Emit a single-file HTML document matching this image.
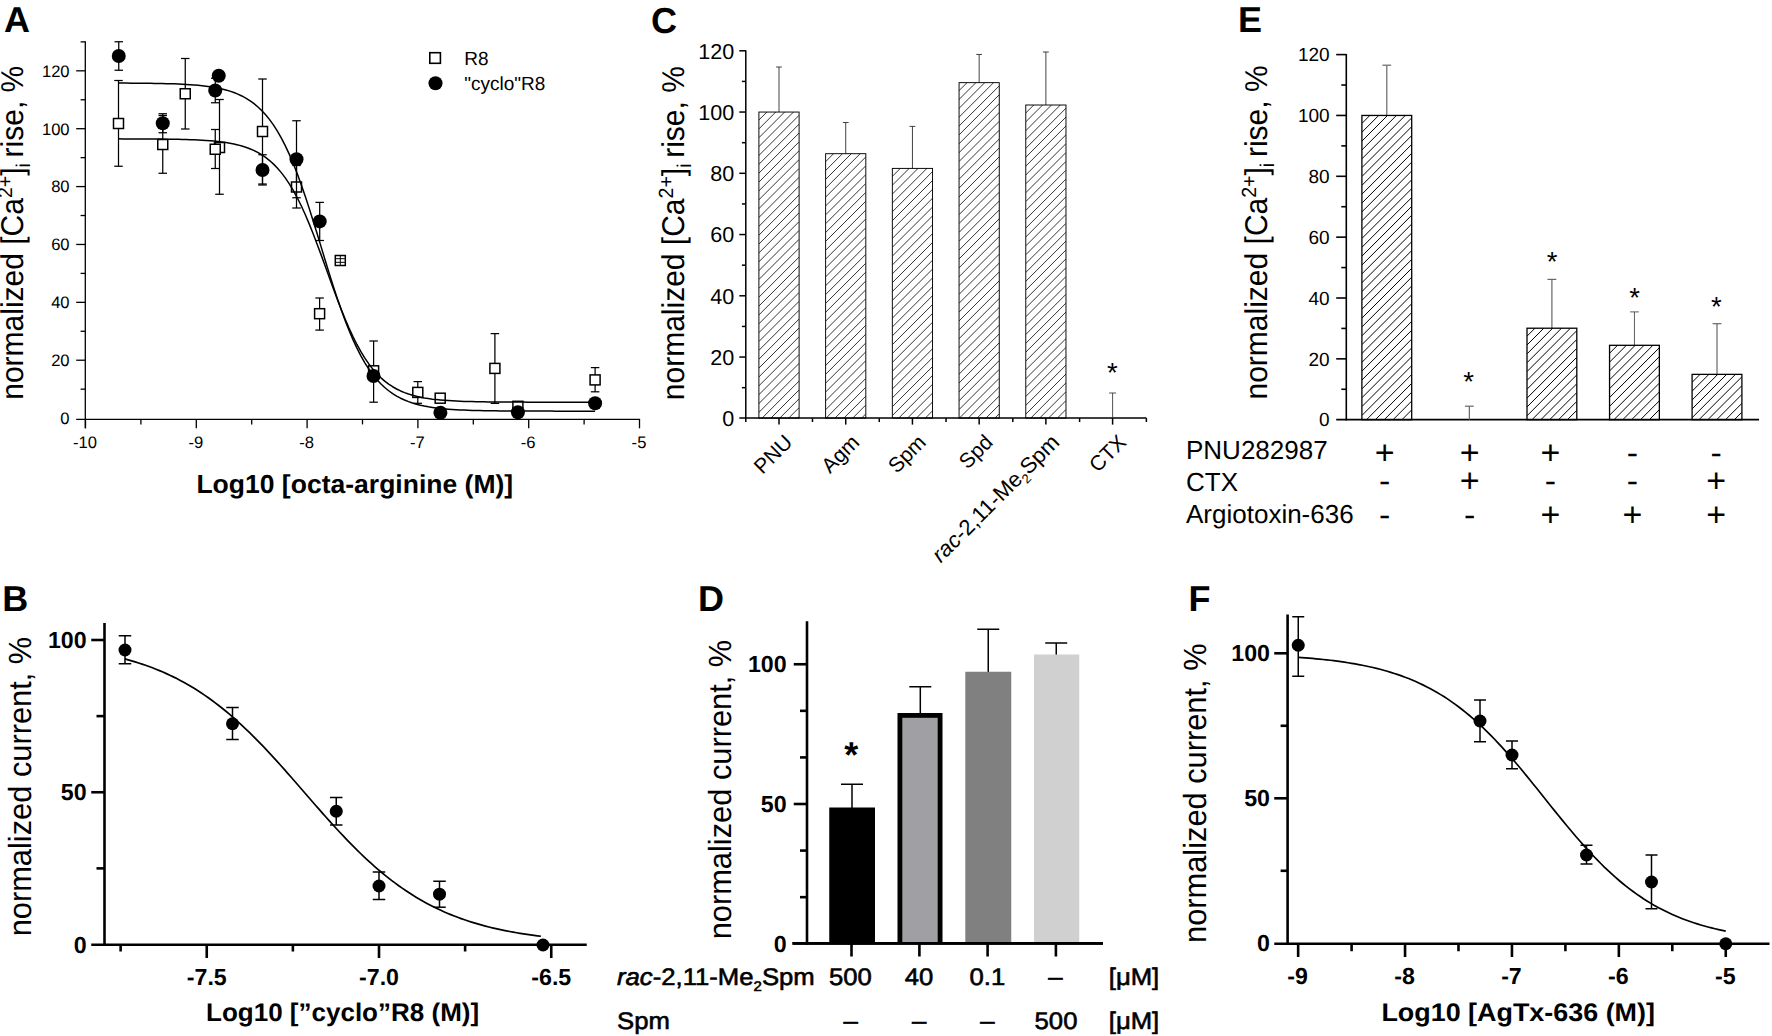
<!DOCTYPE html>
<html lang="en"><head><meta charset="utf-8"><title>Figure</title>
<style>html,body{margin:0;padding:0;background:#fff;}body{width:1772px;height:1036px;overflow:hidden;}svg{display:block;}</style>
</head><body>
<svg width="1772" height="1036" viewBox="0 0 1772 1036" font-family='"Liberation Sans", Arial, sans-serif' text-rendering="geometricPrecision">
<text x="4.00" y="31.60" font-size="36" font-weight="bold" fill="#000">A</text>
<text x="651.00" y="32.60" font-size="36" font-weight="bold" fill="#000">C</text>
<text x="1238.00" y="32.00" font-size="36" font-weight="bold" fill="#000">E</text>
<text x="2.20" y="610.50" font-size="36" font-weight="bold" fill="#000">B</text>
<text x="698.00" y="610.50" font-size="36" font-weight="bold" fill="#000">D</text>
<text x="1188.50" y="610.50" font-size="36" font-weight="bold" fill="#000">F</text>
<line x1="85.30" y1="41.20" x2="85.30" y2="428.30" stroke="#000" stroke-width="1.3"/>
<line x1="76.20" y1="419.40" x2="640.10" y2="419.40" stroke="#000" stroke-width="1.3"/>
<line x1="76.20" y1="360.22" x2="85.30" y2="360.22" stroke="#000" stroke-width="1.3"/>
<line x1="76.20" y1="302.34" x2="85.30" y2="302.34" stroke="#000" stroke-width="1.3"/>
<line x1="76.20" y1="244.46" x2="85.30" y2="244.46" stroke="#000" stroke-width="1.3"/>
<line x1="76.20" y1="186.58" x2="85.30" y2="186.58" stroke="#000" stroke-width="1.3"/>
<line x1="76.20" y1="128.70" x2="85.30" y2="128.70" stroke="#000" stroke-width="1.3"/>
<line x1="76.20" y1="70.82" x2="85.30" y2="70.82" stroke="#000" stroke-width="1.3"/>
<line x1="80.60" y1="389.16" x2="85.30" y2="389.16" stroke="#000" stroke-width="1.3"/>
<line x1="80.60" y1="331.28" x2="85.30" y2="331.28" stroke="#000" stroke-width="1.3"/>
<line x1="80.60" y1="273.40" x2="85.30" y2="273.40" stroke="#000" stroke-width="1.3"/>
<line x1="80.60" y1="215.52" x2="85.30" y2="215.52" stroke="#000" stroke-width="1.3"/>
<line x1="80.60" y1="157.64" x2="85.30" y2="157.64" stroke="#000" stroke-width="1.3"/>
<line x1="80.60" y1="99.76" x2="85.30" y2="99.76" stroke="#000" stroke-width="1.3"/>
<line x1="80.60" y1="41.88" x2="85.30" y2="41.88" stroke="#000" stroke-width="1.3"/>
<line x1="85.50" y1="419.40" x2="85.50" y2="428.30" stroke="#000" stroke-width="1.3"/>
<line x1="196.30" y1="419.40" x2="196.30" y2="428.30" stroke="#000" stroke-width="1.3"/>
<line x1="307.10" y1="419.40" x2="307.10" y2="428.30" stroke="#000" stroke-width="1.3"/>
<line x1="417.90" y1="419.40" x2="417.90" y2="428.30" stroke="#000" stroke-width="1.3"/>
<line x1="528.70" y1="419.40" x2="528.70" y2="428.30" stroke="#000" stroke-width="1.3"/>
<line x1="639.50" y1="419.40" x2="639.50" y2="428.30" stroke="#000" stroke-width="1.3"/>
<line x1="140.90" y1="419.40" x2="140.90" y2="424.40" stroke="#000" stroke-width="1.3"/>
<line x1="251.70" y1="419.40" x2="251.70" y2="424.40" stroke="#000" stroke-width="1.3"/>
<line x1="362.50" y1="419.40" x2="362.50" y2="424.40" stroke="#000" stroke-width="1.3"/>
<line x1="473.30" y1="419.40" x2="473.30" y2="424.40" stroke="#000" stroke-width="1.3"/>
<line x1="584.10" y1="419.40" x2="584.10" y2="424.40" stroke="#000" stroke-width="1.3"/>
<text x="69.60" y="423.90" font-size="16.6" text-anchor="end" fill="#000">0</text>
<text x="69.60" y="366.02" font-size="16.6" text-anchor="end" fill="#000">20</text>
<text x="69.60" y="308.14" font-size="16.6" text-anchor="end" fill="#000">40</text>
<text x="69.60" y="250.26" font-size="16.6" text-anchor="end" fill="#000">60</text>
<text x="69.60" y="192.38" font-size="16.6" text-anchor="end" fill="#000">80</text>
<text x="69.60" y="134.50" font-size="16.6" text-anchor="end" fill="#000">100</text>
<text x="69.60" y="76.62" font-size="16.6" text-anchor="end" fill="#000">120</text>
<text x="85.00" y="447.60" font-size="16.6" text-anchor="middle" fill="#000">-10</text>
<text x="195.80" y="447.60" font-size="16.6" text-anchor="middle" fill="#000">-9</text>
<text x="306.60" y="447.60" font-size="16.6" text-anchor="middle" fill="#000">-8</text>
<text x="417.40" y="447.60" font-size="16.6" text-anchor="middle" fill="#000">-7</text>
<text x="528.20" y="447.60" font-size="16.6" text-anchor="middle" fill="#000">-6</text>
<text x="639.00" y="447.60" font-size="16.6" text-anchor="middle" fill="#000">-5</text>
<text x="0" y="0" transform="translate(196.40 492.80) scale(1.02 1)" font-size="26" font-weight="bold" fill="#000">Log10 [octa-arginine (M)]</text>
<text x="0" y="0" transform="translate(23.30 399.80) rotate(-90) scale(1 1.05)" font-size="30" fill="#000">normalized [Ca<tspan font-size="19.5" dy="-10.5">2+</tspan><tspan dy="10.5">]</tspan><tspan font-size="19" dy="6.5">i</tspan><tspan dy="-6.5" dx="-2.5"> rise,  %</tspan></text>
<rect x="429.80" y="52.70" width="10.6" height="10.6" fill="#fff" stroke="#000" stroke-width="1.6"/>
<circle cx="435.50" cy="83.20" r="7" fill="#000"/>
<text x="464.20" y="64.90" font-size="19" fill="#000">R8</text>
<text x="464.20" y="89.50" font-size="19" fill="#000">&quot;cyclo&quot;R8</text>
<line x1="118.50" y1="80.50" x2="118.50" y2="166.25" stroke="#000" stroke-width="1.25"/>
<line x1="114.25" y1="80.50" x2="122.75" y2="80.50" stroke="#000" stroke-width="1.25"/>
<line x1="114.25" y1="166.25" x2="122.75" y2="166.25" stroke="#000" stroke-width="1.25"/>
<rect x="113.50" y="118.50" width="10" height="10" fill="#fff" stroke="#000" stroke-width="1.5"/>
<line x1="162.75" y1="115.50" x2="162.75" y2="173.25" stroke="#000" stroke-width="1.25"/>
<line x1="158.50" y1="115.50" x2="167.00" y2="115.50" stroke="#000" stroke-width="1.25"/>
<line x1="158.50" y1="173.25" x2="167.00" y2="173.25" stroke="#000" stroke-width="1.25"/>
<rect x="157.75" y="139.50" width="10" height="10" fill="#fff" stroke="#000" stroke-width="1.5"/>
<line x1="185.25" y1="58.50" x2="185.25" y2="129.00" stroke="#000" stroke-width="1.25"/>
<line x1="181.00" y1="58.50" x2="189.50" y2="58.50" stroke="#000" stroke-width="1.25"/>
<line x1="181.00" y1="129.00" x2="189.50" y2="129.00" stroke="#000" stroke-width="1.25"/>
<rect x="180.25" y="88.75" width="10" height="10" fill="#fff" stroke="#000" stroke-width="1.5"/>
<line x1="219.50" y1="99.50" x2="219.50" y2="194.25" stroke="#000" stroke-width="1.25"/>
<line x1="215.25" y1="99.50" x2="223.75" y2="99.50" stroke="#000" stroke-width="1.25"/>
<line x1="215.25" y1="194.25" x2="223.75" y2="194.25" stroke="#000" stroke-width="1.25"/>
<rect x="214.50" y="142.50" width="10" height="10" fill="#fff" stroke="#000" stroke-width="1.5"/>
<line x1="215.25" y1="129.50" x2="215.25" y2="168.50" stroke="#000" stroke-width="1.25"/>
<line x1="211.00" y1="129.50" x2="219.50" y2="129.50" stroke="#000" stroke-width="1.25"/>
<line x1="211.00" y1="168.50" x2="219.50" y2="168.50" stroke="#000" stroke-width="1.25"/>
<rect x="210.25" y="144.25" width="10" height="10" fill="#fff" stroke="#000" stroke-width="1.5"/>
<line x1="262.50" y1="79.00" x2="262.50" y2="184.00" stroke="#000" stroke-width="1.25"/>
<line x1="258.25" y1="79.00" x2="266.75" y2="79.00" stroke="#000" stroke-width="1.25"/>
<line x1="258.25" y1="184.00" x2="266.75" y2="184.00" stroke="#000" stroke-width="1.25"/>
<rect x="257.50" y="126.50" width="10" height="10" fill="#fff" stroke="#000" stroke-width="1.5"/>
<line x1="296.50" y1="165.50" x2="296.50" y2="208.00" stroke="#000" stroke-width="1.25"/>
<line x1="292.25" y1="165.50" x2="300.75" y2="165.50" stroke="#000" stroke-width="1.25"/>
<line x1="292.25" y1="208.00" x2="300.75" y2="208.00" stroke="#000" stroke-width="1.25"/>
<rect x="291.50" y="182.00" width="10" height="10" fill="#fff" stroke="#000" stroke-width="1.5"/>
<line x1="319.60" y1="298.00" x2="319.60" y2="330.10" stroke="#000" stroke-width="1.25"/>
<line x1="315.35" y1="298.00" x2="323.85" y2="298.00" stroke="#000" stroke-width="1.25"/>
<line x1="315.35" y1="330.10" x2="323.85" y2="330.10" stroke="#000" stroke-width="1.25"/>
<rect x="314.60" y="308.70" width="10" height="10" fill="#fff" stroke="#000" stroke-width="1.5"/>
<line x1="340.30" y1="258.30" x2="340.30" y2="262.70" stroke="#000" stroke-width="1.25"/>
<line x1="336.05" y1="258.30" x2="344.55" y2="258.30" stroke="#000" stroke-width="1.25"/>
<line x1="336.05" y1="262.70" x2="344.55" y2="262.70" stroke="#000" stroke-width="1.25"/>
<rect x="335.30" y="255.50" width="10" height="10" fill="#fff" stroke="#000" stroke-width="1.5"/>
<line x1="335.70" y1="258.70" x2="344.90" y2="258.70" stroke="#000" stroke-width="1.0"/>
<line x1="335.70" y1="262.30" x2="344.90" y2="262.30" stroke="#000" stroke-width="1.0"/>
<line x1="340.30" y1="256.00" x2="340.30" y2="265.00" stroke="#000" stroke-width="1.0"/>
<line x1="373.60" y1="341.00" x2="373.60" y2="402.20" stroke="#000" stroke-width="1.25"/>
<line x1="369.35" y1="341.00" x2="377.85" y2="341.00" stroke="#000" stroke-width="1.25"/>
<line x1="369.35" y1="402.20" x2="377.85" y2="402.20" stroke="#000" stroke-width="1.25"/>
<rect x="368.60" y="365.80" width="10" height="10" fill="#fff" stroke="#000" stroke-width="1.5"/>
<line x1="417.80" y1="381.60" x2="417.80" y2="403.30" stroke="#000" stroke-width="1.25"/>
<line x1="413.55" y1="381.60" x2="422.05" y2="381.60" stroke="#000" stroke-width="1.25"/>
<line x1="413.55" y1="403.30" x2="422.05" y2="403.30" stroke="#000" stroke-width="1.25"/>
<rect x="412.80" y="387.40" width="10" height="10" fill="#fff" stroke="#000" stroke-width="1.5"/>
<rect x="435.20" y="393.20" width="10" height="10" fill="#fff" stroke="#000" stroke-width="1.5"/>
<line x1="494.90" y1="333.60" x2="494.90" y2="403.40" stroke="#000" stroke-width="1.25"/>
<line x1="490.65" y1="333.60" x2="499.15" y2="333.60" stroke="#000" stroke-width="1.25"/>
<line x1="490.65" y1="403.40" x2="499.15" y2="403.40" stroke="#000" stroke-width="1.25"/>
<rect x="489.90" y="363.40" width="10" height="10" fill="#fff" stroke="#000" stroke-width="1.5"/>
<rect x="512.90" y="401.30" width="10" height="10" fill="#fff" stroke="#000" stroke-width="1.5"/>
<line x1="595.10" y1="367.60" x2="595.10" y2="391.80" stroke="#000" stroke-width="1.25"/>
<line x1="590.85" y1="367.60" x2="599.35" y2="367.60" stroke="#000" stroke-width="1.25"/>
<line x1="590.85" y1="391.80" x2="599.35" y2="391.80" stroke="#000" stroke-width="1.25"/>
<rect x="590.10" y="374.90" width="10" height="10" fill="#fff" stroke="#000" stroke-width="1.5"/>
<line x1="118.75" y1="41.75" x2="118.75" y2="70.25" stroke="#000" stroke-width="1.25"/>
<line x1="114.50" y1="41.75" x2="123.00" y2="41.75" stroke="#000" stroke-width="1.25"/>
<line x1="114.50" y1="70.25" x2="123.00" y2="70.25" stroke="#000" stroke-width="1.25"/>
<line x1="162.75" y1="113.75" x2="162.75" y2="132.75" stroke="#000" stroke-width="1.25"/>
<line x1="158.50" y1="113.75" x2="167.00" y2="113.75" stroke="#000" stroke-width="1.25"/>
<line x1="158.50" y1="132.75" x2="167.00" y2="132.75" stroke="#000" stroke-width="1.25"/>
<line x1="215.25" y1="78.25" x2="215.25" y2="102.75" stroke="#000" stroke-width="1.25"/>
<line x1="211.00" y1="78.25" x2="219.50" y2="78.25" stroke="#000" stroke-width="1.25"/>
<line x1="211.00" y1="102.75" x2="219.50" y2="102.75" stroke="#000" stroke-width="1.25"/>
<line x1="262.50" y1="154.75" x2="262.50" y2="185.00" stroke="#000" stroke-width="1.25"/>
<line x1="258.25" y1="154.75" x2="266.75" y2="154.75" stroke="#000" stroke-width="1.25"/>
<line x1="258.25" y1="185.00" x2="266.75" y2="185.00" stroke="#000" stroke-width="1.25"/>
<line x1="296.50" y1="120.75" x2="296.50" y2="197.75" stroke="#000" stroke-width="1.25"/>
<line x1="292.25" y1="120.75" x2="300.75" y2="120.75" stroke="#000" stroke-width="1.25"/>
<line x1="292.25" y1="197.75" x2="300.75" y2="197.75" stroke="#000" stroke-width="1.25"/>
<line x1="319.70" y1="202.40" x2="319.70" y2="240.50" stroke="#000" stroke-width="1.25"/>
<line x1="315.45" y1="202.40" x2="323.95" y2="202.40" stroke="#000" stroke-width="1.25"/>
<line x1="315.45" y1="240.50" x2="323.95" y2="240.50" stroke="#000" stroke-width="1.25"/>
<circle cx="118.75" cy="56.00" r="7" fill="#000"/>
<circle cx="162.75" cy="123.25" r="7" fill="#000"/>
<circle cx="218.75" cy="75.75" r="7" fill="#000"/>
<circle cx="215.25" cy="90.50" r="7" fill="#000"/>
<circle cx="262.50" cy="170.00" r="7" fill="#000"/>
<circle cx="296.50" cy="159.25" r="7" fill="#000"/>
<circle cx="319.70" cy="221.40" r="7" fill="#000"/>
<circle cx="373.50" cy="376.00" r="7" fill="#000"/>
<circle cx="440.40" cy="412.70" r="7" fill="#000"/>
<circle cx="517.90" cy="412.30" r="7" fill="#000"/>
<circle cx="595.10" cy="403.30" r="7" fill="#000"/>
<polyline points="118.75,83.07 122.72,83.09 126.69,83.11 130.66,83.13 134.63,83.16 138.60,83.19 142.57,83.22 146.54,83.27 150.51,83.32 154.48,83.38 158.45,83.45 162.42,83.53 166.39,83.63 170.35,83.74 174.32,83.87 178.29,84.02 182.26,84.20 186.23,84.42 190.20,84.66 194.17,84.96 198.14,85.30 202.11,85.69 206.08,86.16 210.05,86.70 214.02,87.34 217.99,88.08 221.96,88.95 225.93,89.96 229.90,91.14 233.87,92.51 237.84,94.11 241.81,95.96 245.78,98.10 249.75,100.57 253.72,103.43 257.69,106.71 261.66,110.47 265.62,114.77 269.59,119.65 273.56,125.18 277.53,131.40 281.50,138.36 285.47,146.10 289.44,154.64 293.41,163.97 297.38,174.09 301.35,184.96 305.32,196.49 309.29,208.61 313.26,221.19 317.23,234.09 321.20,247.15 325.17,260.22 329.14,273.11 333.11,285.69 337.08,297.80 341.05,309.33 345.02,320.18 348.99,330.29 352.96,339.62 356.93,348.14 360.89,355.87 364.86,362.82 368.83,369.03 372.80,374.55 376.77,379.43 380.74,383.71 384.71,387.47 388.68,390.74 392.65,393.59 396.62,396.06 400.59,398.20 404.56,400.05 408.53,401.64 412.50,403.01 416.47,404.18 420.44,405.19 424.41,406.06 428.38,406.80 432.35,407.43 436.32,407.98 440.29,408.44 444.26,408.84 448.23,409.18 452.19,409.47 456.16,409.72 460.13,409.93 464.10,410.11 468.07,410.26 472.04,410.39 476.01,410.50 479.98,410.60 483.95,410.68 487.92,410.75 491.89,410.81 495.86,410.86 499.83,410.90 503.80,410.94 507.77,410.97 511.74,411.00 515.71,411.02 519.68,411.04 523.65,411.06 527.62,411.07 531.59,411.08 535.56,411.09 539.53,411.10 543.50,411.11 547.47,411.12 551.43,411.12 555.40,411.13 559.37,411.13 563.34,411.13 567.31,411.14 571.28,411.14 575.25,411.14 579.22,411.14 583.19,411.15 587.16,411.15 591.13,411.15 595.10,411.15" fill="none" stroke="#000" stroke-width="1.5" stroke-linejoin="round"/>
<polyline points="118.75,138.87 122.72,138.88 126.69,138.89 130.66,138.90 134.63,138.91 138.60,138.92 142.57,138.94 146.54,138.96 150.51,138.99 154.48,139.01 158.45,139.05 162.42,139.09 166.39,139.13 170.35,139.19 174.32,139.26 178.29,139.33 182.26,139.42 186.23,139.53 190.20,139.66 194.17,139.81 198.14,139.99 202.11,140.20 206.08,140.45 210.05,140.74 214.02,141.09 217.99,141.49 221.96,141.97 225.93,142.54 229.90,143.20 233.87,143.98 237.84,144.90 241.81,145.97 245.78,147.23 249.75,148.70 253.72,150.42 257.69,152.42 261.66,154.75 265.62,157.44 269.59,160.55 273.56,164.13 277.53,168.22 281.50,172.88 285.47,178.15 289.44,184.08 293.41,190.70 297.38,198.02 301.35,206.04 305.32,214.75 309.29,224.10 313.26,234.01 317.23,244.40 321.20,255.13 325.17,266.07 329.14,277.08 333.11,287.99 337.08,298.67 341.05,308.97 345.02,318.78 348.99,328.01 352.96,336.58 356.93,344.47 360.89,351.66 364.86,358.14 368.83,363.94 372.80,369.09 376.77,373.63 380.74,377.62 384.71,381.10 388.68,384.12 392.65,386.74 396.62,389.00 400.59,390.95 404.56,392.61 408.53,394.04 412.50,395.26 416.47,396.31 420.44,397.19 424.41,397.95 428.38,398.59 432.35,399.14 436.32,399.60 440.29,400.00 444.26,400.33 448.23,400.62 452.19,400.86 456.16,401.06 460.13,401.23 464.10,401.38 468.07,401.50 472.04,401.61 476.01,401.69 479.98,401.77 483.95,401.83 487.92,401.89 491.89,401.93 495.86,401.97 499.83,402.00 503.80,402.03 507.77,402.05 511.74,402.07 515.71,402.09 519.68,402.11 523.65,402.12 527.62,402.13 531.59,402.14 535.56,402.14 539.53,402.15 543.50,402.15 547.47,402.16 551.43,402.16 555.40,402.17 559.37,402.17 563.34,402.17 567.31,402.17 571.28,402.17 575.25,402.18 579.22,402.18 583.19,402.18 587.16,402.18 591.13,402.18 595.10,402.18" fill="none" stroke="#000" stroke-width="1.5" stroke-linejoin="round"/>
<line x1="745.80" y1="50.30" x2="745.80" y2="422.00" stroke="#000" stroke-width="1.5"/>
<line x1="739.30" y1="418.10" x2="1146.40" y2="418.10" stroke="#000" stroke-width="1.5"/>
<line x1="739.30" y1="357.05" x2="745.80" y2="357.05" stroke="#000" stroke-width="1.5"/>
<line x1="739.30" y1="295.80" x2="745.80" y2="295.80" stroke="#000" stroke-width="1.5"/>
<line x1="739.30" y1="234.55" x2="745.80" y2="234.55" stroke="#000" stroke-width="1.5"/>
<line x1="739.30" y1="173.30" x2="745.80" y2="173.30" stroke="#000" stroke-width="1.5"/>
<line x1="739.30" y1="112.05" x2="745.80" y2="112.05" stroke="#000" stroke-width="1.5"/>
<line x1="739.30" y1="50.80" x2="745.80" y2="50.80" stroke="#000" stroke-width="1.5"/>
<line x1="741.90" y1="387.68" x2="745.80" y2="387.68" stroke="#000" stroke-width="1.5"/>
<line x1="741.90" y1="326.43" x2="745.80" y2="326.43" stroke="#000" stroke-width="1.5"/>
<line x1="741.90" y1="265.18" x2="745.80" y2="265.18" stroke="#000" stroke-width="1.5"/>
<line x1="741.90" y1="203.93" x2="745.80" y2="203.93" stroke="#000" stroke-width="1.5"/>
<line x1="741.90" y1="142.68" x2="745.80" y2="142.68" stroke="#000" stroke-width="1.5"/>
<line x1="741.90" y1="81.43" x2="745.80" y2="81.43" stroke="#000" stroke-width="1.5"/>
<line x1="779.00" y1="418.10" x2="779.00" y2="424.60" stroke="#000" stroke-width="1.5"/>
<line x1="845.72" y1="418.10" x2="845.72" y2="424.60" stroke="#000" stroke-width="1.5"/>
<line x1="912.44" y1="418.10" x2="912.44" y2="424.60" stroke="#000" stroke-width="1.5"/>
<line x1="979.16" y1="418.10" x2="979.16" y2="424.60" stroke="#000" stroke-width="1.5"/>
<line x1="1045.88" y1="418.10" x2="1045.88" y2="424.60" stroke="#000" stroke-width="1.5"/>
<line x1="1112.60" y1="418.10" x2="1112.60" y2="424.60" stroke="#000" stroke-width="1.5"/>
<line x1="812.48" y1="418.10" x2="812.48" y2="422.00" stroke="#000" stroke-width="1.5"/>
<line x1="879.26" y1="418.10" x2="879.26" y2="422.00" stroke="#000" stroke-width="1.5"/>
<line x1="946.04" y1="418.10" x2="946.04" y2="422.00" stroke="#000" stroke-width="1.5"/>
<line x1="1012.82" y1="418.10" x2="1012.82" y2="422.00" stroke="#000" stroke-width="1.5"/>
<line x1="1079.60" y1="418.10" x2="1079.60" y2="422.00" stroke="#000" stroke-width="1.5"/>
<line x1="1146.38" y1="418.10" x2="1146.38" y2="422.00" stroke="#000" stroke-width="1.5"/>
<text x="734.20" y="426.00" font-size="21.6" text-anchor="end" fill="#000">0</text>
<text x="734.20" y="364.75" font-size="21.6" text-anchor="end" fill="#000">20</text>
<text x="734.20" y="303.50" font-size="21.6" text-anchor="end" fill="#000">40</text>
<text x="734.20" y="242.25" font-size="21.6" text-anchor="end" fill="#000">60</text>
<text x="734.20" y="181.00" font-size="21.6" text-anchor="end" fill="#000">80</text>
<text x="734.20" y="119.75" font-size="21.6" text-anchor="end" fill="#000">100</text>
<text x="734.20" y="58.50" font-size="21.6" text-anchor="end" fill="#000">120</text>
<text x="0" y="0" transform="translate(683.70 400.20) rotate(-90) scale(1 1.05)" font-size="30" fill="#000">normalized [Ca<tspan font-size="19.5" dy="-10.5">2+</tspan><tspan dy="10.5">]</tspan><tspan font-size="19" dy="6.5">i</tspan><tspan dy="-6.5" dx="-2.5"> rise,  %</tspan></text>
<line x1="779.00" y1="67.00" x2="779.00" y2="112.05" stroke="#222" stroke-width="0.85"/>
<line x1="776.10" y1="67.00" x2="781.90" y2="67.00" stroke="#222" stroke-width="0.85"/>
<clipPath id="c1"><rect x="758.90" y="112.05" width="40.20" height="306.05"/></clipPath>
<path d="M758.90 120.02L799.10 79.82M758.90 128.88L799.10 88.68M758.90 137.74L799.10 97.54M758.90 146.60L799.10 106.40M758.90 155.46L799.10 115.26M758.90 164.32L799.10 124.12M758.90 173.18L799.10 132.98M758.90 182.04L799.10 141.84M758.90 190.90L799.10 150.70M758.90 199.76L799.10 159.56M758.90 208.62L799.10 168.42M758.90 217.48L799.10 177.28M758.90 226.34L799.10 186.14M758.90 235.20L799.10 195.00M758.90 244.06L799.10 203.86M758.90 252.92L799.10 212.72M758.90 261.78L799.10 221.58M758.90 270.64L799.10 230.44M758.90 279.50L799.10 239.30M758.90 288.36L799.10 248.16M758.90 297.22L799.10 257.02M758.90 306.08L799.10 265.88M758.90 314.94L799.10 274.74M758.90 323.80L799.10 283.60M758.90 332.66L799.10 292.46M758.90 341.52L799.10 301.32M758.90 350.38L799.10 310.18M758.90 359.24L799.10 319.04M758.90 368.10L799.10 327.90M758.90 376.96L799.10 336.76M758.90 385.82L799.10 345.62M758.90 394.68L799.10 354.48M758.90 403.54L799.10 363.34M758.90 412.40L799.10 372.20M758.90 421.26L799.10 381.06M758.90 430.12L799.10 389.92M758.90 438.98L799.10 398.78M758.90 447.84L799.10 407.64M758.90 456.70L799.10 416.50" stroke="#000" stroke-width="0.8" fill="none" clip-path="url(#c1)"/>
<rect x="758.90" y="112.05" width="40.20" height="306.05" fill="none" stroke="#000" stroke-width="0.95"/>
<line x1="845.72" y1="122.50" x2="845.72" y2="153.70" stroke="#222" stroke-width="0.85"/>
<line x1="842.82" y1="122.50" x2="848.62" y2="122.50" stroke="#222" stroke-width="0.85"/>
<clipPath id="c2"><rect x="825.62" y="153.70" width="40.20" height="264.40"/></clipPath>
<path d="M825.62 161.67L865.82 121.47M825.62 170.53L865.82 130.33M825.62 179.39L865.82 139.19M825.62 188.25L865.82 148.05M825.62 197.11L865.82 156.91M825.62 205.97L865.82 165.77M825.62 214.83L865.82 174.63M825.62 223.69L865.82 183.49M825.62 232.55L865.82 192.35M825.62 241.41L865.82 201.21M825.62 250.27L865.82 210.07M825.62 259.13L865.82 218.93M825.62 267.99L865.82 227.79M825.62 276.85L865.82 236.65M825.62 285.71L865.82 245.51M825.62 294.57L865.82 254.37M825.62 303.43L865.82 263.23M825.62 312.29L865.82 272.09M825.62 321.15L865.82 280.95M825.62 330.01L865.82 289.81M825.62 338.87L865.82 298.67M825.62 347.73L865.82 307.53M825.62 356.59L865.82 316.39M825.62 365.45L865.82 325.25M825.62 374.31L865.82 334.11M825.62 383.17L865.82 342.97M825.62 392.03L865.82 351.83M825.62 400.89L865.82 360.69M825.62 409.75L865.82 369.55M825.62 418.61L865.82 378.41M825.62 427.47L865.82 387.27M825.62 436.33L865.82 396.13M825.62 445.19L865.82 404.99M825.62 454.05L865.82 413.85" stroke="#000" stroke-width="0.8" fill="none" clip-path="url(#c2)"/>
<rect x="825.62" y="153.70" width="40.20" height="264.40" fill="none" stroke="#000" stroke-width="0.95"/>
<line x1="912.44" y1="126.40" x2="912.44" y2="168.40" stroke="#222" stroke-width="0.85"/>
<line x1="909.54" y1="126.40" x2="915.34" y2="126.40" stroke="#222" stroke-width="0.85"/>
<clipPath id="c3"><rect x="892.34" y="168.40" width="40.20" height="249.70"/></clipPath>
<path d="M892.34 176.37L932.54 136.17M892.34 185.23L932.54 145.03M892.34 194.09L932.54 153.89M892.34 202.95L932.54 162.75M892.34 211.81L932.54 171.61M892.34 220.67L932.54 180.47M892.34 229.53L932.54 189.33M892.34 238.39L932.54 198.19M892.34 247.25L932.54 207.05M892.34 256.11L932.54 215.91M892.34 264.97L932.54 224.77M892.34 273.83L932.54 233.63M892.34 282.69L932.54 242.49M892.34 291.55L932.54 251.35M892.34 300.41L932.54 260.21M892.34 309.27L932.54 269.07M892.34 318.13L932.54 277.93M892.34 326.99L932.54 286.79M892.34 335.85L932.54 295.65M892.34 344.71L932.54 304.51M892.34 353.57L932.54 313.37M892.34 362.43L932.54 322.23M892.34 371.29L932.54 331.09M892.34 380.15L932.54 339.95M892.34 389.01L932.54 348.81M892.34 397.87L932.54 357.67M892.34 406.73L932.54 366.53M892.34 415.59L932.54 375.39M892.34 424.45L932.54 384.25M892.34 433.31L932.54 393.11M892.34 442.17L932.54 401.97M892.34 451.03L932.54 410.83" stroke="#000" stroke-width="0.8" fill="none" clip-path="url(#c3)"/>
<rect x="892.34" y="168.40" width="40.20" height="249.70" fill="none" stroke="#000" stroke-width="0.95"/>
<line x1="979.16" y1="54.45" x2="979.16" y2="82.65" stroke="#222" stroke-width="0.85"/>
<line x1="976.26" y1="54.45" x2="982.06" y2="54.45" stroke="#222" stroke-width="0.85"/>
<clipPath id="c4"><rect x="959.06" y="82.65" width="40.20" height="335.45"/></clipPath>
<path d="M959.06 90.62L999.26 50.42M959.06 99.48L999.26 59.28M959.06 108.34L999.26 68.14M959.06 117.20L999.26 77.00M959.06 126.06L999.26 85.86M959.06 134.92L999.26 94.72M959.06 143.78L999.26 103.58M959.06 152.64L999.26 112.44M959.06 161.50L999.26 121.30M959.06 170.36L999.26 130.16M959.06 179.22L999.26 139.02M959.06 188.08L999.26 147.88M959.06 196.94L999.26 156.74M959.06 205.80L999.26 165.60M959.06 214.66L999.26 174.46M959.06 223.52L999.26 183.32M959.06 232.38L999.26 192.18M959.06 241.24L999.26 201.04M959.06 250.10L999.26 209.90M959.06 258.96L999.26 218.76M959.06 267.82L999.26 227.62M959.06 276.68L999.26 236.48M959.06 285.54L999.26 245.34M959.06 294.40L999.26 254.20M959.06 303.26L999.26 263.06M959.06 312.12L999.26 271.92M959.06 320.98L999.26 280.78M959.06 329.84L999.26 289.64M959.06 338.70L999.26 298.50M959.06 347.56L999.26 307.36M959.06 356.42L999.26 316.22M959.06 365.28L999.26 325.08M959.06 374.14L999.26 333.94M959.06 383.00L999.26 342.80M959.06 391.86L999.26 351.66M959.06 400.72L999.26 360.52M959.06 409.58L999.26 369.38M959.06 418.44L999.26 378.24M959.06 427.30L999.26 387.10M959.06 436.16L999.26 395.96M959.06 445.02L999.26 404.82M959.06 453.88L999.26 413.68" stroke="#000" stroke-width="0.8" fill="none" clip-path="url(#c4)"/>
<rect x="959.06" y="82.65" width="40.20" height="335.45" fill="none" stroke="#000" stroke-width="0.95"/>
<line x1="1045.88" y1="52.00" x2="1045.88" y2="105.01" stroke="#222" stroke-width="0.85"/>
<line x1="1042.98" y1="52.00" x2="1048.78" y2="52.00" stroke="#222" stroke-width="0.85"/>
<clipPath id="c5"><rect x="1025.78" y="105.01" width="40.20" height="313.09"/></clipPath>
<path d="M1025.78 112.98L1065.98 72.78M1025.78 121.84L1065.98 81.64M1025.78 130.70L1065.98 90.50M1025.78 139.56L1065.98 99.36M1025.78 148.42L1065.98 108.22M1025.78 157.28L1065.98 117.08M1025.78 166.14L1065.98 125.94M1025.78 175.00L1065.98 134.80M1025.78 183.86L1065.98 143.66M1025.78 192.72L1065.98 152.52M1025.78 201.58L1065.98 161.38M1025.78 210.44L1065.98 170.24M1025.78 219.30L1065.98 179.10M1025.78 228.16L1065.98 187.96M1025.78 237.02L1065.98 196.82M1025.78 245.88L1065.98 205.68M1025.78 254.74L1065.98 214.54M1025.78 263.60L1065.98 223.40M1025.78 272.46L1065.98 232.26M1025.78 281.32L1065.98 241.12M1025.78 290.18L1065.98 249.98M1025.78 299.04L1065.98 258.84M1025.78 307.90L1065.98 267.70M1025.78 316.76L1065.98 276.56M1025.78 325.62L1065.98 285.42M1025.78 334.48L1065.98 294.28M1025.78 343.34L1065.98 303.14M1025.78 352.20L1065.98 312.00M1025.78 361.06L1065.98 320.86M1025.78 369.92L1065.98 329.72M1025.78 378.78L1065.98 338.58M1025.78 387.64L1065.98 347.44M1025.78 396.50L1065.98 356.30M1025.78 405.36L1065.98 365.16M1025.78 414.22L1065.98 374.02M1025.78 423.08L1065.98 382.88M1025.78 431.94L1065.98 391.74M1025.78 440.80L1065.98 400.60M1025.78 449.66L1065.98 409.46" stroke="#000" stroke-width="0.8" fill="none" clip-path="url(#c5)"/>
<rect x="1025.78" y="105.01" width="40.20" height="313.09" fill="none" stroke="#000" stroke-width="0.95"/>
<line x1="1112.60" y1="393.00" x2="1112.60" y2="418.10" stroke="#333" stroke-width="0.85"/>
<line x1="1109.10" y1="393.00" x2="1116.10" y2="393.00" stroke="#333" stroke-width="0.85"/>
<text x="1112.30" y="382.40" font-size="27.5" text-anchor="middle" fill="#000">*</text>
<text x="0" y="0" transform="translate(793.80 443.60) rotate(-45)" font-size="21" text-anchor="end" fill="#000">PNU</text>
<text x="0" y="0" transform="translate(860.52 443.60) rotate(-45)" font-size="21" text-anchor="end" fill="#000">Agm</text>
<text x="0" y="0" transform="translate(927.24 443.60) rotate(-45)" font-size="21" text-anchor="end" fill="#000">Spm</text>
<text x="0" y="0" transform="translate(993.96 443.60) rotate(-45)" font-size="21" text-anchor="end" fill="#000">Spd</text>
<text x="0" y="0" transform="translate(1060.68 443.60) rotate(-45)" font-size="22" text-anchor="end" fill="#000"><tspan font-style="italic">rac</tspan>-2,11-Me<tspan font-size="13" dy="5">2</tspan><tspan dy="-5">Spm</tspan></text>
<text x="0" y="0" transform="translate(1127.40 443.60) rotate(-45)" font-size="21" text-anchor="end" fill="#000">CTX</text>
<line x1="1346.30" y1="53.90" x2="1346.30" y2="420.40" stroke="#000" stroke-width="1.6"/>
<line x1="1336.20" y1="419.70" x2="1759.00" y2="419.70" stroke="#000" stroke-width="1.75"/>
<line x1="1336.20" y1="358.85" x2="1346.30" y2="358.85" stroke="#000" stroke-width="1.6"/>
<line x1="1336.20" y1="298.00" x2="1346.30" y2="298.00" stroke="#000" stroke-width="1.6"/>
<line x1="1336.20" y1="237.15" x2="1346.30" y2="237.15" stroke="#000" stroke-width="1.6"/>
<line x1="1336.20" y1="176.30" x2="1346.30" y2="176.30" stroke="#000" stroke-width="1.6"/>
<line x1="1336.20" y1="115.45" x2="1346.30" y2="115.45" stroke="#000" stroke-width="1.6"/>
<line x1="1336.20" y1="54.60" x2="1346.30" y2="54.60" stroke="#000" stroke-width="1.6"/>
<line x1="1341.30" y1="389.27" x2="1346.30" y2="389.27" stroke="#000" stroke-width="1.6"/>
<line x1="1341.30" y1="328.42" x2="1346.30" y2="328.42" stroke="#000" stroke-width="1.6"/>
<line x1="1341.30" y1="267.57" x2="1346.30" y2="267.57" stroke="#000" stroke-width="1.6"/>
<line x1="1341.30" y1="206.72" x2="1346.30" y2="206.72" stroke="#000" stroke-width="1.6"/>
<line x1="1341.30" y1="145.88" x2="1346.30" y2="145.88" stroke="#000" stroke-width="1.6"/>
<line x1="1341.30" y1="85.02" x2="1346.30" y2="85.02" stroke="#000" stroke-width="1.6"/>
<text x="1329.60" y="426.40" font-size="19" text-anchor="end" fill="#000">0</text>
<text x="1329.60" y="365.55" font-size="19" text-anchor="end" fill="#000">20</text>
<text x="1329.60" y="304.70" font-size="19" text-anchor="end" fill="#000">40</text>
<text x="1329.60" y="243.85" font-size="19" text-anchor="end" fill="#000">60</text>
<text x="1329.60" y="183.00" font-size="19" text-anchor="end" fill="#000">80</text>
<text x="1329.60" y="122.15" font-size="19" text-anchor="end" fill="#000">100</text>
<text x="1329.60" y="61.30" font-size="19" text-anchor="end" fill="#000">120</text>
<text x="0" y="0" transform="translate(1266.80 399.50) rotate(-90) scale(1 1.05)" font-size="30" fill="#000">normalized [Ca<tspan font-size="19.5" dy="-10.5">2+</tspan><tspan dy="10.5">]</tspan><tspan font-size="19" dy="6.5">i</tspan><tspan dy="-6.5" dx="-2.5"> rise,  %</tspan></text>
<line x1="1386.80" y1="65.20" x2="1386.80" y2="115.45" stroke="#666" stroke-width="1.2"/>
<line x1="1382.40" y1="65.20" x2="1391.20" y2="65.20" stroke="#666" stroke-width="1.2"/>
<clipPath id="c6"><rect x="1361.90" y="115.45" width="49.80" height="304.25"/></clipPath>
<path d="M1361.90 123.41L1411.70 73.61M1361.90 132.26L1411.70 82.46M1361.90 141.12L1411.70 91.31M1361.90 149.96L1411.70 100.16M1361.90 158.82L1411.70 109.01M1361.90 167.66L1411.70 117.86M1361.90 176.51L1411.70 126.71M1361.90 185.37L1411.70 135.56M1361.90 194.21L1411.70 144.41M1361.90 203.07L1411.70 153.26M1361.90 211.91L1411.70 162.11M1361.90 220.76L1411.70 170.96M1361.90 229.62L1411.70 179.81M1361.90 238.46L1411.70 188.66M1361.90 247.32L1411.70 197.51M1361.90 256.16L1411.70 206.36M1361.90 265.01L1411.70 215.21M1361.90 273.87L1411.70 224.06M1361.90 282.71L1411.70 232.91M1361.90 291.57L1411.70 241.76M1361.90 300.41L1411.70 250.61M1361.90 309.26L1411.70 259.46M1361.90 318.12L1411.70 268.31M1361.90 326.96L1411.70 277.16M1361.90 335.81L1411.70 286.01M1361.90 344.66L1411.70 294.86M1361.90 353.51L1411.70 303.71M1361.90 362.37L1411.70 312.56M1361.90 371.21L1411.70 321.41M1361.90 380.06L1411.70 330.26M1361.90 388.91L1411.70 339.11M1361.90 397.76L1411.70 347.96M1361.90 406.62L1411.70 356.81M1361.90 415.46L1411.70 365.66M1361.90 424.31L1411.70 374.51M1361.90 433.16L1411.70 383.36M1361.90 442.01L1411.70 392.21M1361.90 450.87L1411.70 401.06M1361.90 459.71L1411.70 409.91M1361.90 468.56L1411.70 418.76" stroke="#000" stroke-width="1.0" fill="none" clip-path="url(#c6)"/>
<rect x="1361.90" y="115.45" width="49.80" height="304.25" fill="none" stroke="#000" stroke-width="1.3"/>
<line x1="1469.35" y1="406.20" x2="1469.35" y2="419.70" stroke="#666" stroke-width="1.2"/>
<line x1="1464.95" y1="406.20" x2="1473.75" y2="406.20" stroke="#666" stroke-width="1.2"/>
<line x1="1551.90" y1="279.40" x2="1551.90" y2="328.21" stroke="#666" stroke-width="1.2"/>
<line x1="1547.50" y1="279.40" x2="1556.30" y2="279.40" stroke="#666" stroke-width="1.2"/>
<clipPath id="c7"><rect x="1527.00" y="328.21" width="49.80" height="91.49"/></clipPath>
<path d="M1527.00 336.18L1576.80 286.38M1527.00 345.03L1576.80 295.23M1527.00 353.88L1576.80 304.08M1527.00 362.73L1576.80 312.93M1527.00 371.58L1576.80 321.78M1527.00 380.43L1576.80 330.63M1527.00 389.28L1576.80 339.48M1527.00 398.13L1576.80 348.33M1527.00 406.98L1576.80 357.18M1527.00 415.83L1576.80 366.03M1527.00 424.68L1576.80 374.88M1527.00 433.53L1576.80 383.73M1527.00 442.38L1576.80 392.58M1527.00 451.23L1576.80 401.43M1527.00 460.08L1576.80 410.28M1527.00 468.93L1576.80 419.13" stroke="#000" stroke-width="1.0" fill="none" clip-path="url(#c7)"/>
<rect x="1527.00" y="328.21" width="49.80" height="91.49" fill="none" stroke="#000" stroke-width="1.3"/>
<line x1="1634.45" y1="311.90" x2="1634.45" y2="345.31" stroke="#333" stroke-width="0.8"/>
<line x1="1630.05" y1="311.90" x2="1638.85" y2="311.90" stroke="#333" stroke-width="0.8"/>
<clipPath id="c8"><rect x="1609.55" y="345.31" width="49.80" height="74.39"/></clipPath>
<path d="M1609.55 353.28L1659.35 303.48M1609.55 362.13L1659.35 312.33M1609.55 370.98L1659.35 321.18M1609.55 379.83L1659.35 330.03M1609.55 388.68L1659.35 338.88M1609.55 397.53L1659.35 347.73M1609.55 406.38L1659.35 356.58M1609.55 415.23L1659.35 365.43M1609.55 424.08L1659.35 374.28M1609.55 432.93L1659.35 383.13M1609.55 441.78L1659.35 391.98M1609.55 450.63L1659.35 400.83M1609.55 459.48L1659.35 409.68M1609.55 468.33L1659.35 418.53" stroke="#000" stroke-width="1.0" fill="none" clip-path="url(#c8)"/>
<rect x="1609.55" y="345.31" width="49.80" height="74.39" fill="none" stroke="#000" stroke-width="1.3"/>
<line x1="1717.00" y1="323.70" x2="1717.00" y2="374.37" stroke="#666" stroke-width="1.2"/>
<line x1="1712.60" y1="323.70" x2="1721.40" y2="323.70" stroke="#666" stroke-width="1.2"/>
<clipPath id="c9"><rect x="1692.10" y="374.37" width="49.80" height="45.33"/></clipPath>
<path d="M1692.10 382.33L1741.90 332.53M1692.10 391.18L1741.90 341.38M1692.10 400.03L1741.90 350.23M1692.10 408.88L1741.90 359.08M1692.10 417.73L1741.90 367.93M1692.10 426.58L1741.90 376.78M1692.10 435.43L1741.90 385.63M1692.10 444.28L1741.90 394.48M1692.10 453.13L1741.90 403.33M1692.10 461.98L1741.90 412.18" stroke="#000" stroke-width="1.0" fill="none" clip-path="url(#c9)"/>
<rect x="1692.10" y="374.37" width="49.80" height="45.33" fill="none" stroke="#000" stroke-width="1.3"/>
<text x="1468.50" y="391.30" font-size="27.5" text-anchor="middle" fill="#000">*</text>
<text x="1552.00" y="271.10" font-size="27.5" text-anchor="middle" fill="#000">*</text>
<text x="1634.50" y="307.00" font-size="27.5" text-anchor="middle" fill="#000">*</text>
<text x="1716.40" y="315.80" font-size="27.5" text-anchor="middle" fill="#000">*</text>
<text x="1186.00" y="459.10" font-size="26" fill="#000">PNU282987</text>
<text x="1186.00" y="490.80" font-size="26" fill="#000">CTX</text>
<text x="1186.00" y="523.30" font-size="26" fill="#000">Argiotoxin-636</text>
<text x="1384.60" y="464.20" font-size="34" text-anchor="middle" fill="#000">+</text>
<text x="1469.70" y="464.20" font-size="34" text-anchor="middle" fill="#000">+</text>
<text x="1550.40" y="464.20" font-size="34" text-anchor="middle" fill="#000">+</text>
<text x="1632.50" y="464.20" font-size="34" text-anchor="middle" fill="#000">-</text>
<text x="1716.20" y="464.20" font-size="34" text-anchor="middle" fill="#000">-</text>
<text x="1384.60" y="492.00" font-size="34" text-anchor="middle" fill="#000">-</text>
<text x="1469.70" y="492.00" font-size="34" text-anchor="middle" fill="#000">+</text>
<text x="1550.40" y="492.00" font-size="34" text-anchor="middle" fill="#000">-</text>
<text x="1632.50" y="492.00" font-size="34" text-anchor="middle" fill="#000">-</text>
<text x="1716.20" y="492.00" font-size="34" text-anchor="middle" fill="#000">+</text>
<text x="1384.60" y="526.40" font-size="34" text-anchor="middle" fill="#000">-</text>
<text x="1469.70" y="526.40" font-size="34" text-anchor="middle" fill="#000">-</text>
<text x="1550.40" y="526.40" font-size="34" text-anchor="middle" fill="#000">+</text>
<text x="1632.50" y="526.40" font-size="34" text-anchor="middle" fill="#000">+</text>
<text x="1716.20" y="526.40" font-size="34" text-anchor="middle" fill="#000">+</text>
<line x1="104.50" y1="623.00" x2="104.50" y2="946.00" stroke="#000" stroke-width="2.6"/>
<line x1="91.25" y1="944.70" x2="586.75" y2="944.70" stroke="#000" stroke-width="2.6"/>
<line x1="91.25" y1="792.25" x2="104.50" y2="792.25" stroke="#000" stroke-width="2.6"/>
<line x1="91.25" y1="640.00" x2="104.50" y2="640.00" stroke="#000" stroke-width="2.6"/>
<line x1="96.50" y1="868.38" x2="104.50" y2="868.38" stroke="#000" stroke-width="2.6"/>
<line x1="96.50" y1="716.12" x2="104.50" y2="716.12" stroke="#000" stroke-width="2.6"/>
<line x1="206.75" y1="944.70" x2="206.75" y2="958.00" stroke="#000" stroke-width="2.6"/>
<line x1="379.00" y1="944.70" x2="379.00" y2="958.00" stroke="#000" stroke-width="2.6"/>
<line x1="551.25" y1="944.70" x2="551.25" y2="958.00" stroke="#000" stroke-width="2.6"/>
<line x1="120.62" y1="944.70" x2="120.62" y2="951.50" stroke="#000" stroke-width="2.6"/>
<line x1="292.88" y1="944.70" x2="292.88" y2="951.50" stroke="#000" stroke-width="2.6"/>
<line x1="465.12" y1="944.70" x2="465.12" y2="951.50" stroke="#000" stroke-width="2.6"/>
<text x="86.60" y="952.50" font-size="23.2" font-weight="bold" text-anchor="end" fill="#000">0</text>
<text x="86.60" y="800.25" font-size="23.2" font-weight="bold" text-anchor="end" fill="#000">50</text>
<text x="86.60" y="648.00" font-size="23.2" font-weight="bold" text-anchor="end" fill="#000">100</text>
<text x="206.75" y="984.70" font-size="23.2" font-weight="bold" text-anchor="middle" fill="#000">-7.5</text>
<text x="379.00" y="984.70" font-size="23.2" font-weight="bold" text-anchor="middle" fill="#000">-7.0</text>
<text x="551.25" y="984.70" font-size="23.2" font-weight="bold" text-anchor="middle" fill="#000">-6.5</text>
<text x="0" y="0" transform="translate(206.00 1020.75) scale(1.02 1)" font-size="25.5" font-weight="bold" fill="#000">Log10 [”cyclo”R8 (M)]</text>
<text x="0" y="0" transform="translate(31.25 936.30) rotate(-90) scale(1 1.04)" font-size="30.8" fill="#000">normalized current,  %</text>
<line x1="125.00" y1="635.75" x2="125.00" y2="663.75" stroke="#000" stroke-width="1.5"/>
<line x1="118.75" y1="635.75" x2="131.25" y2="635.75" stroke="#000" stroke-width="1.5"/>
<line x1="118.75" y1="663.75" x2="131.25" y2="663.75" stroke="#000" stroke-width="1.5"/>
<line x1="232.50" y1="707.50" x2="232.50" y2="739.50" stroke="#000" stroke-width="1.5"/>
<line x1="226.25" y1="707.50" x2="238.75" y2="707.50" stroke="#000" stroke-width="1.5"/>
<line x1="226.25" y1="739.50" x2="238.75" y2="739.50" stroke="#000" stroke-width="1.5"/>
<line x1="336.25" y1="797.50" x2="336.25" y2="825.00" stroke="#000" stroke-width="1.5"/>
<line x1="330.00" y1="797.50" x2="342.50" y2="797.50" stroke="#000" stroke-width="1.5"/>
<line x1="330.00" y1="825.00" x2="342.50" y2="825.00" stroke="#000" stroke-width="1.5"/>
<line x1="379.00" y1="872.00" x2="379.00" y2="899.50" stroke="#000" stroke-width="1.5"/>
<line x1="372.75" y1="872.00" x2="385.25" y2="872.00" stroke="#000" stroke-width="1.5"/>
<line x1="372.75" y1="899.50" x2="385.25" y2="899.50" stroke="#000" stroke-width="1.5"/>
<line x1="439.50" y1="881.25" x2="439.50" y2="907.20" stroke="#000" stroke-width="1.5"/>
<line x1="433.25" y1="881.25" x2="445.75" y2="881.25" stroke="#000" stroke-width="1.5"/>
<line x1="433.25" y1="907.20" x2="445.75" y2="907.20" stroke="#000" stroke-width="1.5"/>
<circle cx="125.00" cy="650.00" r="6.5" fill="#000"/>
<circle cx="232.50" cy="723.75" r="6.5" fill="#000"/>
<circle cx="336.25" cy="811.25" r="6.5" fill="#000"/>
<circle cx="379.00" cy="886.00" r="6.5" fill="#000"/>
<circle cx="439.50" cy="894.20" r="6.5" fill="#000"/>
<circle cx="543.00" cy="945.00" r="6.5" fill="#000"/>
<polyline points="124.76,658.87 128.23,659.82 131.69,660.81 135.16,661.86 138.63,662.95 142.10,664.08 145.57,665.28 149.03,666.52 152.50,667.82 155.97,669.17 159.44,670.59 162.91,672.06 166.37,673.60 169.84,675.20 173.31,676.87 176.78,678.61 180.25,680.41 183.71,682.29 187.18,684.24 190.65,686.26 194.12,688.35 197.59,690.53 201.05,692.78 204.52,695.11 207.99,697.52 211.46,700.01 214.93,702.58 218.39,705.23 221.86,707.96 225.33,710.77 228.80,713.67 232.27,716.64 235.73,719.69 239.20,722.81 242.67,726.02 246.14,729.29 249.61,732.64 253.07,736.06 256.54,739.55 260.01,743.10 263.48,746.71 266.95,750.37 270.41,754.09 273.88,757.86 277.35,761.68 280.82,765.53 284.29,769.42 287.75,773.34 291.22,777.29 294.69,781.26 298.16,785.24 301.63,789.23 305.09,793.23 308.56,797.22 312.03,801.21 315.50,805.19 318.97,809.15 322.43,813.08 325.90,816.99 329.37,820.86 332.84,824.70 336.30,828.49 339.77,832.24 343.24,835.93 346.71,839.57 350.18,843.15 353.64,846.67 357.11,850.12 360.58,853.51 364.05,856.82 367.52,860.06 370.98,863.23 374.45,866.32 377.92,869.33 381.39,872.26 384.86,875.11 388.32,877.89 391.79,880.58 395.26,883.19 398.73,885.72 402.20,888.17 405.66,890.54 409.13,892.83 412.60,895.05 416.07,897.18 419.54,899.24 423.00,901.23 426.47,903.14 429.94,904.98 433.41,906.75 436.88,908.45 440.34,910.09 443.81,911.66 447.28,913.17 450.75,914.61 454.22,916.00 457.68,917.33 461.15,918.60 464.62,919.81 468.09,920.98 471.56,922.09 475.02,923.16 478.49,924.18 481.96,925.15 485.43,926.08 488.90,926.97 492.36,927.82 495.83,928.63 499.30,929.40 502.77,930.13 506.24,930.84 509.70,931.50 513.17,932.14 516.64,932.75 520.11,933.33 523.58,933.88 527.04,934.41 530.51,934.91 533.98,935.38 537.45,935.83 540.91,936.27" fill="none" stroke="#000" stroke-width="1.7" stroke-linejoin="round"/>
<line x1="807.00" y1="621.25" x2="807.00" y2="944.80" stroke="#000" stroke-width="2.6"/>
<line x1="792.50" y1="943.40" x2="1103.00" y2="943.40" stroke="#000" stroke-width="2.9"/>
<line x1="793.75" y1="804.00" x2="807.00" y2="804.00" stroke="#000" stroke-width="2.6"/>
<line x1="793.75" y1="664.25" x2="807.00" y2="664.25" stroke="#000" stroke-width="2.6"/>
<line x1="800.00" y1="897.17" x2="807.00" y2="897.17" stroke="#000" stroke-width="2.6"/>
<line x1="800.00" y1="850.58" x2="807.00" y2="850.58" stroke="#000" stroke-width="2.6"/>
<line x1="800.00" y1="757.42" x2="807.00" y2="757.42" stroke="#000" stroke-width="2.6"/>
<line x1="800.00" y1="710.83" x2="807.00" y2="710.83" stroke="#000" stroke-width="2.6"/>
<line x1="851.50" y1="943.40" x2="851.50" y2="956.50" stroke="#000" stroke-width="2.6"/>
<line x1="919.40" y1="943.40" x2="919.40" y2="956.50" stroke="#000" stroke-width="2.6"/>
<line x1="987.60" y1="943.40" x2="987.60" y2="956.50" stroke="#000" stroke-width="2.6"/>
<line x1="1055.90" y1="943.40" x2="1055.90" y2="956.50" stroke="#000" stroke-width="2.6"/>
<text x="786.60" y="951.75" font-size="23.2" font-weight="bold" text-anchor="end" fill="#000">0</text>
<text x="786.60" y="812.00" font-size="23.2" font-weight="bold" text-anchor="end" fill="#000">50</text>
<text x="786.60" y="672.25" font-size="23.2" font-weight="bold" text-anchor="end" fill="#000">100</text>
<text x="0" y="0" transform="translate(731.25 939.30) rotate(-90) scale(1 1.04)" font-size="30.8" fill="#000">normalized current,  %</text>
<line x1="852.00" y1="784.25" x2="852.00" y2="844.25" stroke="#000" stroke-width="1.5"/>
<line x1="841.00" y1="784.25" x2="863.00" y2="784.25" stroke="#000" stroke-width="1.5"/>
<line x1="920.30" y1="686.75" x2="920.30" y2="746.75" stroke="#000" stroke-width="1.5"/>
<line x1="909.30" y1="686.75" x2="931.30" y2="686.75" stroke="#000" stroke-width="1.5"/>
<line x1="988.25" y1="629.25" x2="988.25" y2="689.25" stroke="#000" stroke-width="1.5"/>
<line x1="977.25" y1="629.25" x2="999.25" y2="629.25" stroke="#000" stroke-width="1.5"/>
<line x1="1056.25" y1="643.00" x2="1056.25" y2="703.00" stroke="#000" stroke-width="1.5"/>
<line x1="1045.25" y1="643.00" x2="1067.25" y2="643.00" stroke="#000" stroke-width="1.5"/>
<rect x="829.25" y="807.5" width="45.75" height="135.90" fill="#000"/>
<rect x="897.5" y="713" width="45" height="230.40" fill="#000"/>
<rect x="902.3" y="717.8" width="35.4" height="225.60" fill="#a09fa3"/>
<rect x="965.3" y="671.75" width="45.95" height="271.65" fill="#808080"/>
<rect x="1034" y="654.5" width="45.25" height="288.90" fill="#d0d0d0"/>
<line x1="792.50" y1="943.40" x2="1103.00" y2="943.40" stroke="#000" stroke-width="2.9"/>
<text x="851.25" y="767.20" font-size="36" font-weight="bold" text-anchor="middle" fill="#000">*</text>
<text x="0" y="0" transform="translate(617.00 984.50) scale(1.07 1)" font-size="24" fill="#000" stroke="#000" stroke-width="0.6"><tspan font-style="italic">rac</tspan>-2,11-Me<tspan font-size="14" dy="6">2</tspan><tspan dy="-6">Spm</tspan></text>
<text x="0" y="0" transform="translate(617.00 1029.00) scale(1.07 1)" font-size="24" fill="#000" stroke="#000" stroke-width="0.6">Spm</text>
<text x="0" y="0" transform="translate(850.40 984.50) scale(1.07 1)" font-size="24" text-anchor="middle" fill="#000" stroke="#000" stroke-width="0.6">500</text>
<text x="0" y="0" transform="translate(919.00 984.50) scale(1.07 1)" font-size="24" text-anchor="middle" fill="#000" stroke="#000" stroke-width="0.6">40</text>
<text x="0" y="0" transform="translate(987.40 984.50) scale(1.07 1)" font-size="24" text-anchor="middle" fill="#000" stroke="#000" stroke-width="0.6">0.1</text>
<text x="0" y="0" transform="translate(1055.50 984.50) scale(1.07 1)" font-size="24" text-anchor="middle" fill="#000" stroke="#000" stroke-width="0.6">–</text>
<text x="0" y="0" transform="translate(850.75 1029.00) scale(1.07 1)" font-size="24" text-anchor="middle" fill="#000" stroke="#000" stroke-width="0.6">–</text>
<text x="0" y="0" transform="translate(919.25 1029.00) scale(1.07 1)" font-size="24" text-anchor="middle" fill="#000" stroke="#000" stroke-width="0.6">–</text>
<text x="0" y="0" transform="translate(987.50 1029.00) scale(1.07 1)" font-size="24" text-anchor="middle" fill="#000" stroke="#000" stroke-width="0.6">–</text>
<text x="0" y="0" transform="translate(1056.00 1029.00) scale(1.07 1)" font-size="24" text-anchor="middle" fill="#000" stroke="#000" stroke-width="0.6">500</text>
<text x="0" y="0" transform="translate(1108.75 984.50) scale(1.07 1)" font-size="24" fill="#000" stroke="#000" stroke-width="0.6">[μM]</text>
<text x="0" y="0" transform="translate(1108.75 1029.00) scale(1.07 1)" font-size="24" fill="#000" stroke="#000" stroke-width="0.6">[μM]</text>
<line x1="1287.60" y1="614.50" x2="1287.60" y2="945.05" stroke="#000" stroke-width="2.6"/>
<line x1="1274.25" y1="943.75" x2="1769.50" y2="943.75" stroke="#000" stroke-width="2.6"/>
<line x1="1274.25" y1="798.30" x2="1287.60" y2="798.30" stroke="#000" stroke-width="2.6"/>
<line x1="1274.25" y1="653.30" x2="1287.60" y2="653.30" stroke="#000" stroke-width="2.6"/>
<line x1="1280.60" y1="870.80" x2="1287.60" y2="870.80" stroke="#000" stroke-width="2.6"/>
<line x1="1280.60" y1="725.80" x2="1287.60" y2="725.80" stroke="#000" stroke-width="2.6"/>
<line x1="1298.15" y1="943.75" x2="1298.15" y2="957.00" stroke="#000" stroke-width="2.6"/>
<line x1="1405.05" y1="943.75" x2="1405.05" y2="957.00" stroke="#000" stroke-width="2.6"/>
<line x1="1511.95" y1="943.75" x2="1511.95" y2="957.00" stroke="#000" stroke-width="2.6"/>
<line x1="1618.85" y1="943.75" x2="1618.85" y2="957.00" stroke="#000" stroke-width="2.6"/>
<line x1="1725.75" y1="943.75" x2="1725.75" y2="957.00" stroke="#000" stroke-width="2.6"/>
<line x1="1351.60" y1="943.75" x2="1351.60" y2="951.25" stroke="#000" stroke-width="2.6"/>
<line x1="1458.50" y1="943.75" x2="1458.50" y2="951.25" stroke="#000" stroke-width="2.6"/>
<line x1="1565.40" y1="943.75" x2="1565.40" y2="951.25" stroke="#000" stroke-width="2.6"/>
<line x1="1672.30" y1="943.75" x2="1672.30" y2="951.25" stroke="#000" stroke-width="2.6"/>
<text x="1270.00" y="951.30" font-size="23.2" font-weight="bold" text-anchor="end" fill="#000">0</text>
<text x="1270.00" y="806.30" font-size="23.2" font-weight="bold" text-anchor="end" fill="#000">50</text>
<text x="1270.00" y="661.30" font-size="23.2" font-weight="bold" text-anchor="end" fill="#000">100</text>
<text x="1297.65" y="984.20" font-size="23.2" font-weight="bold" text-anchor="middle" fill="#000">-9</text>
<text x="1404.55" y="984.20" font-size="23.2" font-weight="bold" text-anchor="middle" fill="#000">-8</text>
<text x="1511.45" y="984.20" font-size="23.2" font-weight="bold" text-anchor="middle" fill="#000">-7</text>
<text x="1618.35" y="984.20" font-size="23.2" font-weight="bold" text-anchor="middle" fill="#000">-6</text>
<text x="1725.25" y="984.20" font-size="23.2" font-weight="bold" text-anchor="middle" fill="#000">-5</text>
<text x="0" y="0" transform="translate(1381.40 1020.75) scale(1.055 1)" font-size="25.5" font-weight="bold" fill="#000">Log10 [AgTx-636 (M)]</text>
<text x="0" y="0" transform="translate(1206.25 943.00) rotate(-90) scale(1 1.04)" font-size="30.8" fill="#000">normalized current,  %</text>
<line x1="1298.25" y1="616.75" x2="1298.25" y2="676.25" stroke="#000" stroke-width="1.5"/>
<line x1="1292.25" y1="616.75" x2="1304.25" y2="616.75" stroke="#000" stroke-width="1.5"/>
<line x1="1292.25" y1="676.25" x2="1304.25" y2="676.25" stroke="#000" stroke-width="1.5"/>
<line x1="1480.00" y1="700.00" x2="1480.00" y2="741.75" stroke="#000" stroke-width="1.5"/>
<line x1="1474.00" y1="700.00" x2="1486.00" y2="700.00" stroke="#000" stroke-width="1.5"/>
<line x1="1474.00" y1="741.75" x2="1486.00" y2="741.75" stroke="#000" stroke-width="1.5"/>
<line x1="1512.00" y1="741.00" x2="1512.00" y2="768.75" stroke="#000" stroke-width="1.5"/>
<line x1="1506.00" y1="741.00" x2="1518.00" y2="741.00" stroke="#000" stroke-width="1.5"/>
<line x1="1506.00" y1="768.75" x2="1518.00" y2="768.75" stroke="#000" stroke-width="1.5"/>
<line x1="1586.50" y1="845.25" x2="1586.50" y2="864.00" stroke="#000" stroke-width="1.5"/>
<line x1="1580.50" y1="845.25" x2="1592.50" y2="845.25" stroke="#000" stroke-width="1.5"/>
<line x1="1580.50" y1="864.00" x2="1592.50" y2="864.00" stroke="#000" stroke-width="1.5"/>
<line x1="1651.50" y1="855.00" x2="1651.50" y2="908.75" stroke="#000" stroke-width="1.5"/>
<line x1="1645.50" y1="855.00" x2="1657.50" y2="855.00" stroke="#000" stroke-width="1.5"/>
<line x1="1645.50" y1="908.75" x2="1657.50" y2="908.75" stroke="#000" stroke-width="1.5"/>
<circle cx="1298.25" cy="645.25" r="6.5" fill="#000"/>
<circle cx="1480.00" cy="721.00" r="6.5" fill="#000"/>
<circle cx="1512.00" cy="755.00" r="6.5" fill="#000"/>
<circle cx="1586.50" cy="855.00" r="6.5" fill="#000"/>
<circle cx="1651.50" cy="882.00" r="6.5" fill="#000"/>
<circle cx="1725.75" cy="943.75" r="6.5" fill="#000"/>
<polyline points="1298.15,657.36 1301.71,657.61 1305.28,657.88 1308.84,658.16 1312.40,658.47 1315.97,658.79 1319.53,659.13 1323.09,659.49 1326.66,659.88 1330.22,660.28 1333.78,660.71 1337.35,661.17 1340.91,661.66 1344.47,662.17 1348.04,662.72 1351.60,663.29 1355.16,663.90 1358.73,664.55 1362.29,665.23 1365.85,665.96 1369.42,666.72 1372.98,667.53 1376.54,668.39 1380.11,669.29 1383.67,670.25 1387.23,671.26 1390.80,672.32 1394.36,673.45 1397.92,674.63 1401.49,675.88 1405.05,677.19 1408.61,678.58 1412.18,680.03 1415.74,681.57 1419.30,683.17 1422.87,684.86 1426.43,686.64 1429.99,688.49 1433.56,690.44 1437.12,692.48 1440.68,694.61 1444.25,696.84 1447.81,699.16 1451.37,701.59 1454.94,704.12 1458.50,706.75 1462.06,709.48 1465.63,712.32 1469.19,715.26 1472.75,718.31 1476.32,721.47 1479.88,724.73 1483.44,728.09 1487.01,731.56 1490.57,735.12 1494.13,738.78 1497.70,742.54 1501.26,746.38 1504.82,750.31 1508.39,754.32 1511.95,758.41 1515.51,762.57 1519.08,766.79 1522.64,771.06 1526.20,775.39 1529.77,779.76 1533.33,784.16 1536.89,788.59 1540.46,793.04 1544.02,797.50 1547.58,801.96 1551.15,806.41 1554.71,810.85 1558.27,815.26 1561.84,819.64 1565.40,823.98 1568.96,828.28 1572.53,832.52 1576.09,836.70 1579.65,840.81 1583.22,844.85 1586.78,848.81 1590.34,852.69 1593.91,856.47 1597.47,860.17 1601.03,863.77 1604.60,867.27 1608.16,870.67 1611.72,873.97 1615.29,877.16 1618.85,880.25 1622.41,883.23 1625.98,886.11 1629.54,888.88 1633.10,891.55 1636.67,894.11 1640.23,896.57 1643.79,898.94 1647.36,901.20 1650.92,903.36 1654.48,905.44 1658.05,907.42 1661.61,909.31 1665.17,911.11 1668.74,912.83 1672.30,914.46 1675.86,916.02 1679.43,917.51 1682.99,918.92 1686.55,920.25 1690.12,921.53 1693.68,922.73 1697.24,923.88 1700.81,924.96 1704.37,925.99 1707.93,926.97 1711.50,927.89 1715.06,928.76 1718.62,929.59 1722.19,930.37 1725.75,931.11" fill="none" stroke="#000" stroke-width="1.7" stroke-linejoin="round"/>
</svg>
</body></html>
